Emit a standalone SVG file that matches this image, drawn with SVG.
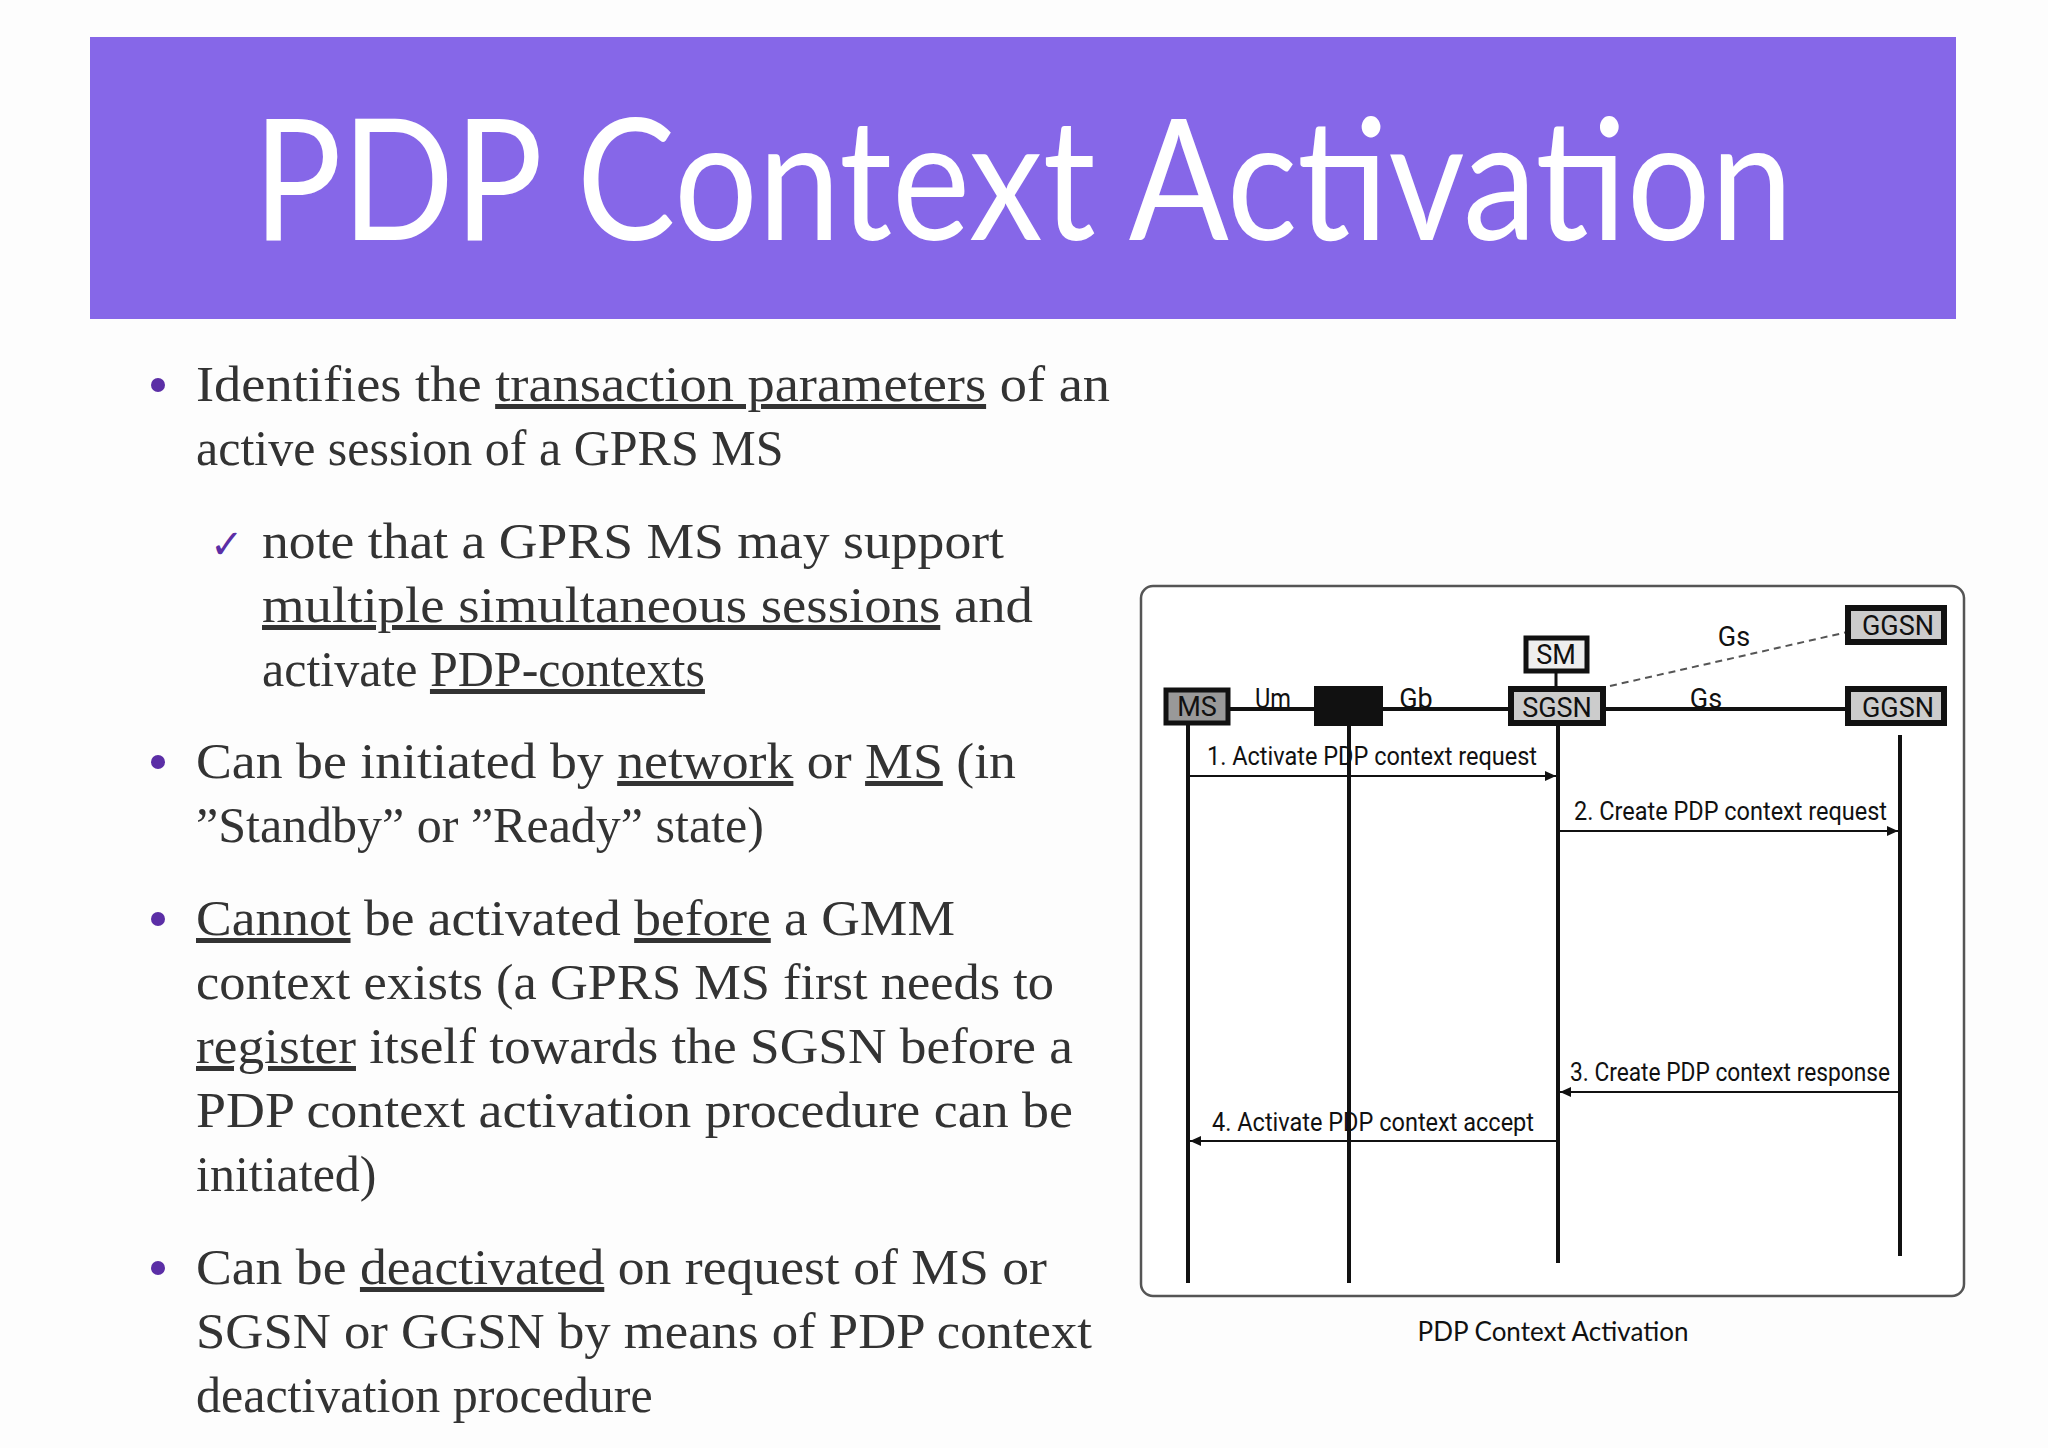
<svg xmlns="http://www.w3.org/2000/svg" width="2048" height="1448" viewBox="0 0 2048 1448">
<defs>
<style>
.body{font-family:"Liberation Serif",serif;font-size:50px;fill:#333}
.u{text-decoration:underline}
.bul{fill:#5b2ea6}
.nd{font-family:Roboto,"Liberation Sans",sans-serif;font-size:27px;fill:#111;text-anchor:middle}
.msg{font-family:Roboto,"Liberation Sans",sans-serif;font-size:25px;fill:#111}
.ll{stroke:#111;stroke-width:4}
.ar{stroke:#111;stroke-width:2;fill:none}
</style>
<marker id="ah" markerWidth="12" markerHeight="12" refX="11" refY="6" orient="auto" markerUnits="userSpaceOnUse">
<path d="M0,1 L11,6 L0,11 Z" fill="#111"/>
</marker>
</defs>
<rect width="2048" height="1448" fill="#fdfdfd"/>
<g id="title">
<rect x="90" y="37" width="1866" height="282" fill="#8667e8"/>
<text x="1023" y="240" text-anchor="middle" font-family="Lato,'Open Sans',sans-serif" font-size="168" fill="#fff" textLength="1540" lengthAdjust="spacingAndGlyphs">PDP Context Activation</text>
</g>
<g id="bullets">
<circle class="bul" cx="158" cy="385" r="7"/>
<circle class="bul" cx="158" cy="762" r="7"/>
<circle class="bul" cx="158" cy="919" r="7"/>
<circle class="bul" cx="158" cy="1268" r="7"/>
<text x="210" y="558" font-family="'DejaVu Sans',sans-serif" font-size="40" fill="#5b2ea6">✓</text>
<text class="body" x="196" y="401" textLength="914" lengthAdjust="spacingAndGlyphs">Identifies the <tspan class="u">transaction parameters</tspan> of an</text>
<text class="body" x="196" y="465">active session of a GPRS MS</text>
<text class="body" x="262" y="558" textLength="742" lengthAdjust="spacingAndGlyphs">note that a GPRS MS may support</text>
<text class="body" x="262" y="622" textLength="771" lengthAdjust="spacingAndGlyphs"><tspan class="u">multiple simultaneous sessions</tspan> and</text>
<text class="body" x="262" y="686">activate <tspan class="u">PDP-contexts</tspan></text>
<text class="body" x="196" y="778" textLength="820" lengthAdjust="spacingAndGlyphs">Can be initiated by <tspan class="u">network</tspan> or <tspan class="u">MS</tspan> (in</text>
<text class="body" x="196" y="842">”Standby” or ”Ready” state)</text>
<text class="body" x="196" y="935" textLength="759" lengthAdjust="spacingAndGlyphs"><tspan class="u">Cannot</tspan> be activated <tspan class="u">before</tspan> a GMM</text>
<text class="body" x="196" y="999" textLength="858" lengthAdjust="spacingAndGlyphs">context exists (a GPRS MS first needs to</text>
<text class="body" x="196" y="1063" textLength="877" lengthAdjust="spacingAndGlyphs"><tspan class="u">register</tspan> itself towards the SGSN before a</text>
<text class="body" x="196" y="1127" textLength="877" lengthAdjust="spacingAndGlyphs">PDP context activation procedure can be</text>
<text class="body" x="196" y="1191">initiated)</text>
<text class="body" x="196" y="1284" textLength="851" lengthAdjust="spacingAndGlyphs">Can be <tspan class="u">deactivated</tspan> on request of MS or</text>
<text class="body" x="196" y="1348" textLength="896" lengthAdjust="spacingAndGlyphs">SGSN or GGSN by means of PDP context</text>
<text class="body" x="196" y="1412">deactivation procedure</text>
</g>
<rect id="frame" x="1141" y="586" width="823" height="710" rx="12" fill="#fff" stroke="#555" stroke-width="2.5"/>
<g id="connectors">
<line x1="1230" y1="709" x2="1845" y2="709" stroke="#111" stroke-width="4"/>
<line x1="1556" y1="673" x2="1556" y2="686" stroke="#111" stroke-width="3"/>
<line x1="1610" y1="686" x2="1852" y2="631" stroke="#555" stroke-width="2" stroke-dasharray="7,5"/>
<line class="ll" x1="1188" y1="725" x2="1188" y2="1283"/>
<line class="ll" x1="1349" y1="726" x2="1349" y2="1283"/>
<line class="ll" x1="1558" y1="726" x2="1558" y2="1263"/>
<line class="ll" x1="1900" y1="735" x2="1900" y2="1256"/>
<line class="ar" x1="1190" y1="776" x2="1556" y2="776" marker-end="url(#ah)"/>
<line class="ar" x1="1560" y1="831" x2="1898" y2="831" marker-end="url(#ah)"/>
<line class="ar" x1="1898" y1="1092" x2="1560" y2="1092" marker-end="url(#ah)"/>
<line class="ar" x1="1556" y1="1141" x2="1190" y2="1141" marker-end="url(#ah)"/>
<text class="msg" x="1207" y="765" textLength="330" lengthAdjust="spacingAndGlyphs">1. Activate PDP context request</text>
<text class="msg" x="1574" y="820" textLength="313" lengthAdjust="spacingAndGlyphs">2. Create PDP context request</text>
<text class="msg" x="1570" y="1081" textLength="320" lengthAdjust="spacingAndGlyphs">3. Create PDP context response</text>
<text class="msg" x="1212" y="1131" textLength="322" lengthAdjust="spacingAndGlyphs">4. Activate PDP context accept</text>
<text class="nd" x="1273" y="708" textLength="36" lengthAdjust="spacingAndGlyphs">Um</text>
<text class="nd" x="1416" y="708">Gb</text>
<text class="nd" x="1706" y="708">Gs</text>
<text class="nd" x="1734" y="646">Gs</text>
</g>
<g id="MS"><rect x="1166" y="690" width="62" height="33" fill="#999" stroke="#111" stroke-width="5"/><text class="nd" x="1197" y="716">MS</text></g>
<g id="BSS"><rect x="1314" y="686" width="69" height="40" fill="#111"/></g>
<g id="SM"><rect x="1526" y="638" width="61" height="33" fill="#eee" stroke="#111" stroke-width="5"/><text class="nd" x="1556" y="664">SM</text></g>
<g id="SGSN"><rect x="1511" y="689" width="92" height="34" fill="#ccc" stroke="#111" stroke-width="6"/><text class="nd" x="1557" y="717">SGSN</text></g>
<g id="GGSN1"><rect x="1848" y="608" width="96" height="34" fill="#ccc" stroke="#111" stroke-width="6"/><text class="nd" x="1898" y="635">GGSN</text></g>
<g id="GGSN2"><rect x="1848" y="689" width="96" height="34" fill="#ccc" stroke="#111" stroke-width="6"/><text class="nd" x="1898" y="717">GGSN</text></g>
<text x="1553" y="1341" text-anchor="middle" font-family="Lato,'Open Sans',sans-serif" font-size="26" fill="#111">PDP Context Activation</text>
</svg>
